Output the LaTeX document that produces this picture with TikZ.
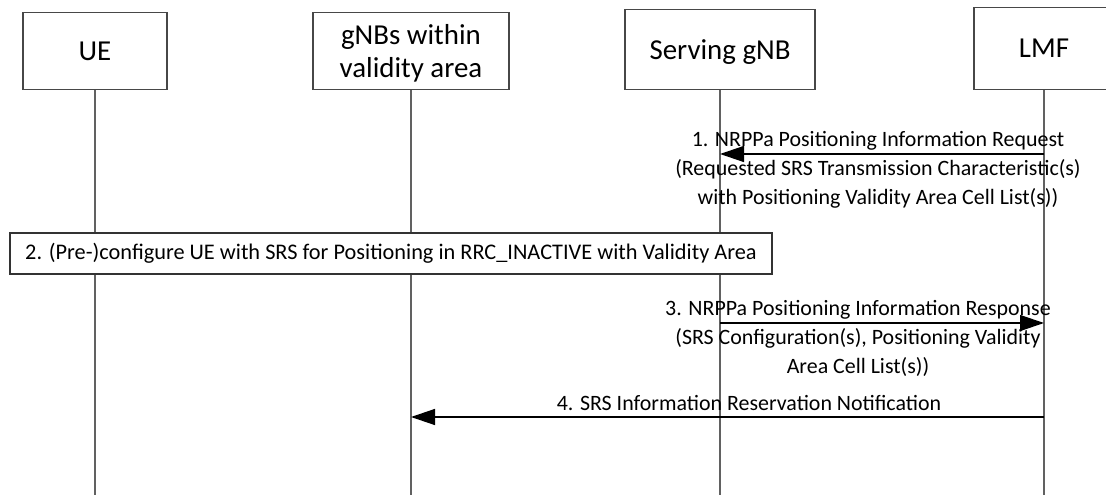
\documentclass[tikz,border=0pt]{standalone}
\usepackage{fontspec}
\setmainfont{Carlito}
\usetikzlibrary{arrows.meta}
\begin{document}
\begin{tikzpicture}[x=1bp,y=-1bp,
  actor/.style={draw=black!72, line width=1.2bp, inner sep=0pt, anchor=south,
    font=\fontsize{29}{33}\selectfont, align=center, text depth=0pt},
  life/.style={draw=black!62, line width=1.1bp},
  msg/.style={draw=black, line width=1.4bp, -{Triangle[length=24bp,width=16bp]}},
  lbl/.style={font=\fontsize{22}{29}\selectfont, align=center, inner sep=0pt},
  stepbox/.style={draw=black!80, fill=white, line width=1.2bp, inner sep=0pt,
    font=\fontsize{22.4}{26}\selectfont}]
\useasboundingbox (0,0) rectangle (1106,495);
% actors
\node[actor, minimum width=144bp, minimum height=77bp] (ue) at (95,90) {UE};
\node[actor, minimum width=196bp, minimum height=77bp] (gnbs) at (411,90) {gNBs within\\validity area};
\node[actor, minimum width=190bp, minimum height=79.5bp] (sgnb) at (720,90) {Serving gNB};
\node[actor, minimum width=140bp, minimum height=82bp] (lmf) at (1044,90) {LMF};
% lifeline ends
\coordinate (ue-b) at (95,495);
\coordinate (gnbs-b) at (411,495);
\coordinate (sgnb-b) at (720,495);
\coordinate (lmf-b) at (1044,495);
\draw[life] (ue.south) -- (ue-b);
\draw[life] (gnbs.south) -- (gnbs-b);
\draw[life] (sgnb.south) -- (sgnb-b);
\draw[life] (lmf.south) -- (lmf-b);
% message levels
\coordinate (y1) at (0,154);
\coordinate (y3) at (0,323);
\coordinate (y4) at (0,417);
% 1
\draw[msg] (lmf.south |- y1) -- (sgnb.south |- y1);
\node[lbl] (t1) at (878,170) {1. NRPPa Positioning Information Request\\(Requested SRS Transmission Characteristic(s)\\with Positioning Validity Area Cell List(s))};
% 2
\node[stepbox, minimum width=762bp, minimum height=41bp] (cfg) at (391,253.5) {2. (Pre-)configure UE with SRS for Positioning in RRC\_INACTIVE with Validity Area};
% 3
\draw[msg] (sgnb.south |- y3) -- (lmf.south |- y3);
\node[lbl] (t3) at (858,338.5) {3. NRPPa Positioning Information Response\\(SRS Configuration(s), Positioning Validity\\Area Cell List(s))};
% 4
\draw[msg] (lmf.south |- y4) -- (gnbs.south |- y4);
\node[lbl] (t4) at (749,403) {4. SRS Information Reservation Notification};
\end{tikzpicture}
\end{document}
